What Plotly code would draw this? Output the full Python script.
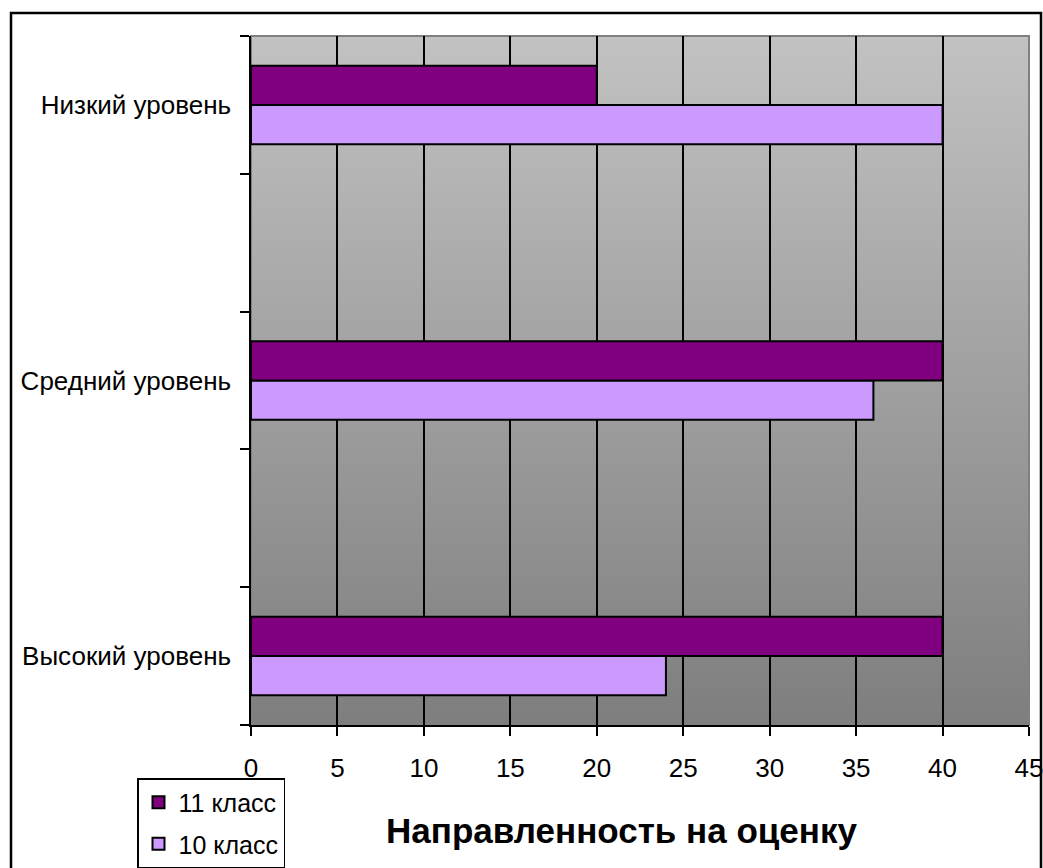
import base64
import plotly.graph_objects as go

# Category labels (top to bottom as read on the chart) and values per class
levels = ["Низкий уровень", "Средний уровень", "Высокий уровень"]
grade_11 = [20, 40, 40]
grade_10 = [40, 36, 24]
series_names = ["11 класс", "10 класс"]
x_ticks = [0, 5, 10, 15, 20, 25, 30, 35, 40, 45]
axis_title = "Направленность на оценку"

COLOR_11 = "#800080"
COLOR_10 = "#CC99FF"
FONT = "Liberation Sans, Arial, sans-serif"

W, H = 1043, 868
ML, MR, MT, MB = 251, 14, 36, 143

# Category axis with blank spacer rows between the labelled levels (bottom to top)
spacers = [" ", "  "]
cat_order = [levels[2], spacers[0], levels[1], spacers[1], levels[0]]


def column(values):
    lookup = dict(zip(levels, values))
    return [lookup.get(c) for c in cat_order]


fig = go.Figure()
fig.add_trace(go.Bar(
    name=series_names[1], y=cat_order, x=column(grade_10), orientation="h",
    legendgroup="g10", legendrank=2,
    marker=dict(color=COLOR_10, line=dict(color="black", width=2)),
))
fig.add_trace(go.Bar(
    name=series_names[0], y=cat_order, x=column(grade_11), orientation="h",
    legendgroup="g11", legendrank=1,
    marker=dict(color=COLOR_11, line=dict(color="black", width=2)),
))

# Vertical grey gradient behind the plot area
svg = (
    '<svg xmlns="http://www.w3.org/2000/svg" width="100" height="100" preserveAspectRatio="none">'
    '<defs><linearGradient id="g" x1="0" y1="0" x2="0" y2="1">'
    '<stop offset="0" stop-color="#C2C2C2"/><stop offset="1" stop-color="#7E7E7E"/>'
    '</linearGradient></defs><rect width="100" height="100" fill="url(#g)"/></svg>'
)
gradient_src = "data:image/svg+xml;base64," + base64.b64encode(svg.encode()).decode()

pw, ph = W - ML - MR, H - MT - MB


def px_x(px):
    return (px - ML) / pw


def px_y(py):
    return (H - MB - py) / ph


fig.update_layout(
    width=W, height=H,
    margin=dict(l=ML, r=MR, t=MT, b=MB, pad=0, autoexpand=False),
    paper_bgcolor="white",
    plot_bgcolor="rgba(0,0,0,0)",
    barmode="group", bargap=0.43, bargroupgap=0,
    font=dict(family=FONT, size=26, color="black"),
    images=[dict(source=gradient_src, xref="paper", yref="paper", x=0, y=1,
                 sizex=1, sizey=1, sizing="stretch", layer="below",
                 xanchor="left", yanchor="top")],
    xaxis=dict(
        range=[0, 45], tickvals=x_ticks, ticks="outside", ticklen=9,
        tickwidth=1.5, tickcolor="black", showgrid=True, gridcolor="black",
        gridwidth=1.5, showline=True, linecolor="black", linewidth=1.5,
        zeroline=False, tickfont=dict(size=26), automargin=False,
        ticklabelstandoff=10, ticklabeloverflow="allow",
    ),
    yaxis=dict(
        type="category", categoryorder="array", categoryarray=cat_order,
        tickson="boundaries", ticks="outside", ticklen=9, tickwidth=1.5,
        tickcolor="black", showgrid=False, showline=True, linecolor="black",
        linewidth=1.5, tickfont=dict(size=26), range=[-0.5, 4.5],
        automargin=False, ticklabelstandoff=13,
    ),
    legend=dict(
        traceorder="grouped", x=px_x(137), y=px_y(778), xanchor="left",
        yanchor="top", bgcolor="white", bordercolor="black", borderwidth=1.5,
        font=dict(size=25), itemwidth=30, tracegroupgap=6,
    ),
    shapes=[
        # grey plot-area frame (top and right edges)
        dict(type="rect", xref="paper", yref="paper", x0=0, y0=0, x1=1, y1=1,
             line=dict(color="#808080", width=2), layer="below"),
        # outer chart border
        dict(type="rect", xref="paper", yref="paper",
             x0=px_x(11), y0=px_y(880), x1=px_x(1041), y1=px_y(13),
             line=dict(color="black", width=2.5)),
    ],
    annotations=[dict(
        text=f"<b>{axis_title}</b>", xref="paper", yref="paper",
        x=px_x(621), y=px_y(830), xanchor="center", yanchor="middle",
        showarrow=False, font=dict(size=35, family=FONT),
    )],
)

fig.write_html("out.html")
